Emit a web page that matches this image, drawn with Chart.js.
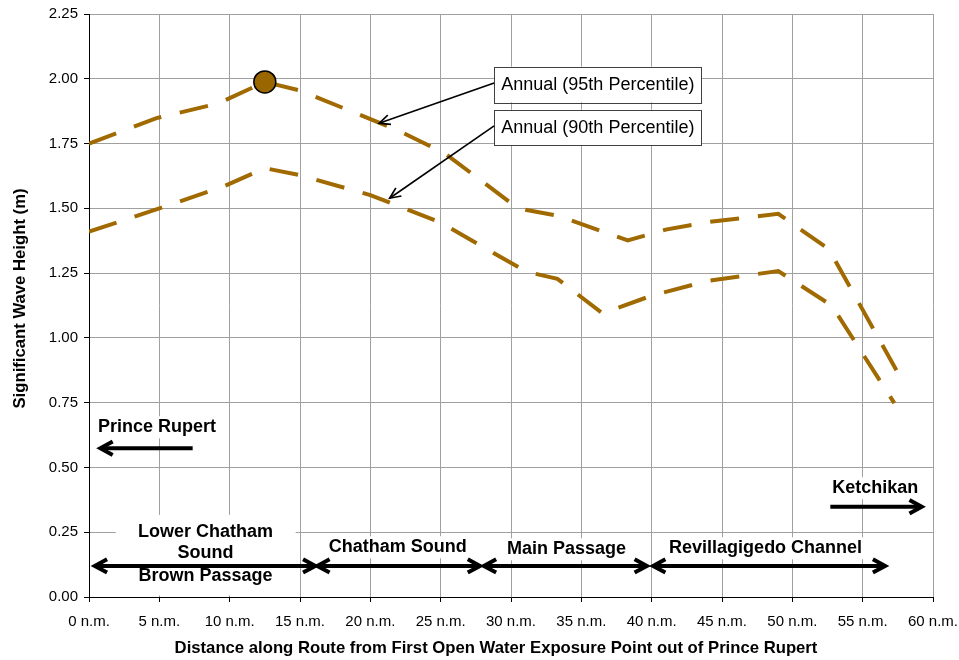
<!DOCTYPE html>
<html>
<head>
<meta charset="utf-8">
<title>Significant Wave Height along Route</title>
<script src="https://cdn.jsdelivr.net/npm/chart.js@4.4.0/dist/chart.umd.min.js"></script>
<style>
  html, body { margin: 0; padding: 0; background: #fff; }
  #wrap { position: relative; width: 959px; height: 660px; }
</style>
</head>
<body>
<div id="wrap"><canvas id="waveChart"></canvas></div>
<script>
// Distance along route (n.m.) and significant wave height (m)
const dist95 = [0, 4.8, 9.2, 12.5, 15, 22, 25.3, 30.5, 33.3, 38.3, 41, 44, 49, 52.6, 57.4];
const wave95 = [1.75, 1.848, 1.905, 1.988, 1.955, 1.80, 1.712, 1.50, 1.472, 1.376, 1.418, 1.447, 1.479, 1.342, 0.875];
const dist90 = [0, 5, 9.6, 12.5, 15, 20, 25, 31.1, 33.3, 36.5, 40, 44, 49, 52.8, 57.25];
const wave90 = [1.41, 1.50, 1.585, 1.655, 1.628, 1.551, 1.445, 1.255, 1.228, 1.095, 1.163, 1.22, 1.258, 1.125, 0.748];

// Axis ticks
const xTickValues = [0, 5, 10, 15, 20, 25, 30, 35, 40, 45, 50, 55, 60];
const yTickValues = [0, 0.25, 0.5, 0.75, 1, 1.25, 1.5, 1.75, 2, 2.25];

const xTitle = 'Distance along Route from First Open Water Exposure Point out of Prince Rupert';
const yTitle = 'Significant Wave Height (m)';

const FONT = '"Liberation Sans", Arial, Helvetica, sans-serif';
const LINE_COLOR = '#A06A00';

// peak of the 95th percentile curve gets the round marker
const peakIndex = wave95.indexOf(Math.max(...wave95));

// Annotations, placed in data units (n.m., m)
const seriesBoxes = [
  { text: 'Annual (95th Percentile)', x0: 28.8, x1: 43.55, top: 2.047, bottom: 1.909, from: [28.8, 1.984], to: [20.62, 1.828] },
  { text: 'Annual (90th Percentile)', x0: 28.8, x1: 43.55, top: 1.880, bottom: 1.744, from: [28.8, 1.818], to: [21.37, 1.539] }
];

const placeLabels = [
  { text: 'Prince Rupert', x: 4.83, y: 0.655 },
  { text: 'Ketchikan', x: 55.9, y: 0.42 },
  { text: 'Chatham Sound', x: 21.95, y: 0.192 },
  { text: 'Main Passage', x: 33.95, y: 0.184 },
  { text: 'Revillagigedo Channel', x: 48.1, y: 0.188 }
];

const lowerChatham = { lines: ['Lower Chatham', 'Sound', 'Brown Passage'], x: 8.28, y: [0.252, 0.169, 0.081], bg: [1.9, 14.69, 0.317, 0.006] };

const routeArrows = [
  { x0: 7.37, x1: 0.81, y: 0.574, both: false },
  { x0: 52.7, x1: 59.2, y: 0.3485, both: false },
  { x0: 0.41, x1: 16.09, y: 0.12, both: true },
  { x0: 16.23, x1: 27.8, y: 0.12, both: true },
  { x0: 28.07, x1: 39.66, y: 0.12, both: true },
  { x0: 40.1, x1: 56.6, y: 0.12, both: true }
];

function arrowHead(ctx, tx, ty, angle, len, spread) {
  ctx.beginPath();
  ctx.moveTo(tx - len * Math.cos(angle - spread), ty - len * Math.sin(angle - spread));
  ctx.lineTo(tx, ty);
  ctx.lineTo(tx - len * Math.cos(angle + spread), ty - len * Math.sin(angle + spread));
  ctx.stroke();
}

const annotations = {
  id: 'annotations',
  afterDatasetsDraw(chart) {
    const ctx = chart.ctx;
    const xs = chart.scales.x, ys = chart.scales.y;
    const px = v => xs.getPixelForValue(v);
    const py = v => ys.getPixelForValue(v);
    ctx.save();

    // white block behind the Lower Chatham label
    const b = lowerChatham.bg;
    ctx.fillStyle = '#fff';
    ctx.fillRect(px(b[0]), py(b[2]), px(b[1]) - px(b[0]), py(b[3]) - py(b[2]));

    // place labels with white backing
    ctx.font = 'bold 18px ' + FONT;
    ctx.textAlign = 'center';
    ctx.textBaseline = 'middle';
    placeLabels.forEach(l => {
      const w = ctx.measureText(l.text).width;
      ctx.fillStyle = '#fff';
      ctx.fillRect(px(l.x) - w / 2 - 3, py(l.y) - 11, w + 6, 22);
      ctx.fillStyle = '#000';
      ctx.fillText(l.text, px(l.x), py(l.y));
    });

    // route arrows
    ctx.strokeStyle = '#000';
    ctx.lineWidth = 4;
    ctx.lineJoin = 'miter';
    routeArrows.forEach(a => {
      const x0 = px(a.x0), x1 = px(a.x1), y = py(a.y);
      const dir = x1 > x0 ? 0 : Math.PI;
      const back = x1 > x0 ? -2 : 2;
      ctx.beginPath();
      ctx.moveTo(a.both ? x0 - back : x0, y);
      ctx.lineTo(x1 + back, y);
      ctx.stroke();
      arrowHead(ctx, x1, y, dir, 14, 0.5);
      if (a.both) arrowHead(ctx, x0, y, dir + Math.PI, 14, 0.5);
    });

    ctx.fillStyle = '#000';
    lowerChatham.lines.forEach((t, i) => {
      ctx.fillText(t, px(lowerChatham.x), py(lowerChatham.y[i]));
    });

    // series callout boxes with leader arrows
    ctx.font = '18px ' + FONT;
    seriesBoxes.forEach(s => {
      const x0 = px(s.x0), x1 = px(s.x1), y0 = py(s.top), y1 = py(s.bottom);
      ctx.fillStyle = '#fff';
      ctx.fillRect(x0, y0, x1 - x0, y1 - y0);
      ctx.lineWidth = 1;
      ctx.strokeStyle = '#404040';
      ctx.strokeRect(Math.round(x0) + 0.5, Math.round(y0) + 0.5, Math.round(x1 - x0), Math.round(y1 - y0));
      ctx.fillStyle = '#000';
      ctx.fillText(s.text, (x0 + x1) / 2, (y0 + y1) / 2 + 1);

      const fx = px(s.from[0]), fy = py(s.from[1]);
      const tx = px(s.to[0]), ty = py(s.to[1]);
      ctx.strokeStyle = '#000';
      ctx.lineWidth = 1.6;
      ctx.beginPath();
      ctx.moveTo(fx, fy);
      ctx.lineTo(tx, ty);
      ctx.stroke();
      arrowHead(ctx, tx, ty, Math.atan2(ty - fy, tx - fx), 12, 0.42);
    });

    ctx.restore();
  },
  // axis titles: the original centres them slightly left of / above the plot centre
  afterDraw(chart) {
    const ctx = chart.ctx;
    const area = chart.chartArea;
    ctx.save();
    ctx.fillStyle = '#000';
    ctx.font = 'bold 16.7px ' + FONT;
    ctx.textAlign = 'center';
    ctx.textBaseline = 'middle';
    ctx.fillText(xTitle, (area.left + area.right) / 2 - 15, chart.height - 12);
    ctx.translate(20, (area.top + area.bottom) / 2 - 7);
    ctx.rotate(-Math.PI / 2);
    ctx.fillText(yTitle, 0, 0);
    ctx.restore();
  }
};

new Chart(document.getElementById('waveChart'), {
  type: 'line',
  data: {
    datasets: [
      {
        label: 'Annual (95th Percentile)',
        data: dist95.map((d, i) => ({ x: d, y: wave95[i] })),
        borderColor: LINE_COLOR,
        borderWidth: 4,
        borderDash: [29, 19],
        tension: 0,
        pointRadius: dist95.map((d, i) => i === peakIndex ? 11 : 0),
        pointBackgroundColor: '#996600',
        pointBorderColor: '#000',
        pointBorderWidth: 1.5
      },
      {
        label: 'Annual (90th Percentile)',
        data: dist90.map((d, i) => ({ x: d, y: wave90[i] })),
        borderColor: LINE_COLOR,
        borderWidth: 4,
        borderDash: [29, 19],
        tension: 0,
        pointRadius: 0
      }
    ]
  },
  options: {
    responsive: true,
    maintainAspectRatio: false,
    animation: false,
    layout: { padding: { top: 14, right: 26, left: 0, bottom: 0 } },
    plugins: {
      legend: { display: false },
      tooltip: { enabled: false }
    },
    scales: {
      x: {
        type: 'linear',
        min: 0,
        max: 60,
        afterBuildTicks: s => { s.ticks = xTickValues.map(v => ({ value: v })); },
        afterFit: s => { s.height = 63; s.paddingLeft = 0; s.paddingRight = 0; },
        grid: { color: '#a0a0a0', tickColor: '#000', tickLength: 5 },
        border: { color: '#000', width: 1 },
        ticks: {
          color: '#000',
          padding: 11,
          maxRotation: 0,
          font: { family: FONT, size: 15 },
          callback: v => v + ' n.m.'
        }
      },
      y: {
        min: 0,
        max: 2.25,
        afterBuildTicks: s => { s.ticks = yTickValues.map(v => ({ value: v })); },
        afterFit: s => { s.width = 89; s.paddingTop = 0; s.paddingBottom = 0; },
        grid: { color: '#a0a0a0', tickColor: '#000', tickLength: 5 },
        border: { color: '#000', width: 1 },
        ticks: {
          color: '#000',
          padding: 6,
          font: { family: FONT, size: 15 },
          callback: v => v.toFixed(2)
        }
      }
    }
  },
  plugins: [annotations]
});
</script>
</body>
</html>
